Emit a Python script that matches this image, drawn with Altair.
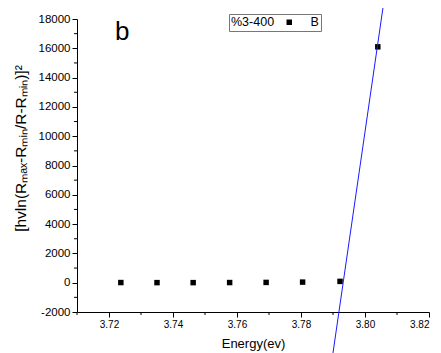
import altair as alt
import pandas as pd

# Data
energy = [3.7237, 3.7350, 3.7463, 3.7577, 3.7691, 3.7805, 3.7922, 3.8040]
signal = [10, 5, 5, 10, 20, 40, 90, 16100]
series = ["B"] * len(energy)

fit_x = [3.7892, 3.8071]
fit_y = [-6000, 21000]

x_major = [3.72, 3.74, 3.76, 3.78, 3.80, 3.82]
x_minor = [3.71, 3.73, 3.75, 3.77, 3.79, 3.81]
y_major = [-2000, 0, 2000, 4000, 6000, 8000, 10000, 12000, 14000, 16000, 18000]
y_minor = [-1000, 1000, 3000, 5000, 7000, 9000, 11000, 13000, 15000, 17000]

panel_label = ["b"]
panel_x = [3.7219]
panel_y = [16600]

FONT = "Liberation Sans"

pts = pd.DataFrame({"energy": energy, "signal": signal, "series": series})
fit = pd.DataFrame({"energy": fit_x, "signal": fit_y})
xm = pd.DataFrame({"v": x_minor})
ym = pd.DataFrame({"v": y_minor})
lab = pd.DataFrame({"t": panel_label, "x": panel_x, "y": panel_y})

xscale = alt.Scale(domain=[3.71, 3.82], nice=False, zero=False)
yscale = alt.Scale(domain=[-2000, 18000], nice=False, zero=False)

xaxis = alt.Axis(values=x_major, format=".2f", title="Energy(ev)", tickSize=5,
                 labelFontSize=10, titleFontSize=13, titlePadding=8, labelPadding=2,
                 labelFlush=True, labelOverlap=False)
yaxis = alt.Axis(values=y_major, title="[hvln(Rₘₐₓ-Rₘᵢₙ/R-Rₘᵢₙ)]²",
                 labelExpr="datum.value < 0 ? '-' + abs(datum.value) : '' + datum.value",
                 tickSize=5, labelFontSize=11.5, titleFontSize=15.5, titlePadding=10,
                 titleY=129, labelPadding=2, labelOverlap=False)

points = alt.Chart(pts).mark_square(size=30, opacity=1).encode(
    x=alt.X("energy:Q", scale=xscale, axis=xaxis),
    y=alt.Y("signal:Q", scale=yscale, axis=yaxis),
    color=alt.Color("series:N", scale=alt.Scale(range=["black"]),
                    legend=alt.Legend(title="%3-400", orient="none", legendX=152, legendY=-5,
                                      titleOrient="left", symbolType="square",
                                      labelExpr="datum.label + '    '")),
)

line = alt.Chart(fit).mark_line(color="#1a1aff", strokeWidth=1, clip=False).encode(
    x=alt.X("energy:Q", scale=xscale, axis=xaxis),
    y=alt.Y("signal:Q", scale=yscale, axis=yaxis),
)

xminor = alt.Chart(xm).mark_rule(color="black", strokeWidth=1).encode(
    x=alt.X("v:Q", scale=xscale, axis=xaxis),
    y=alt.value(293), y2=alt.value(296),
)
yminor = alt.Chart(ym).mark_rule(color="black", strokeWidth=1).encode(
    y=alt.Y("v:Q", scale=yscale, axis=yaxis),
    x=alt.value(-3), x2=alt.value(0),
)

btext = alt.Chart(lab).mark_text(fontSize=26, font=FONT, align="left",
                                 baseline="alphabetic", color="black").encode(
    x=alt.X("x:Q", scale=xscale, axis=xaxis),
    y=alt.Y("y:Q", scale=yscale, axis=yaxis),
    text="t:N",
)

chart = alt.layer(points, line, xminor, yminor, btext).properties(
    width=352, height=293,
    autosize=alt.AutoSizeParams(type="none"),
    padding={"left": 69, "top": 11, "right": 4, "bottom": 45},
).configure_view(strokeWidth=0).configure_axis(
    labelFont=FONT, titleFont=FONT, labelColor="black", titleColor="black",
    domainColor="black", tickColor="black", grid=False, titleFontWeight="normal",
    labelOverlap=False,
).configure_legend(
    titleFont=FONT, labelFont=FONT, titleFontSize=12.5, labelFontSize=12.5,
    titleFontWeight="normal", titleColor="black", labelColor="black",
    strokeColor="#777777", padding=2, titlePadding=8, symbolSize=30,
    symbolStrokeWidth=0, labelOffset=15, cornerRadius=0, fillColor="white",
)

chart.save("out.html", embed_options={"renderer": "svg", "actions": False})
